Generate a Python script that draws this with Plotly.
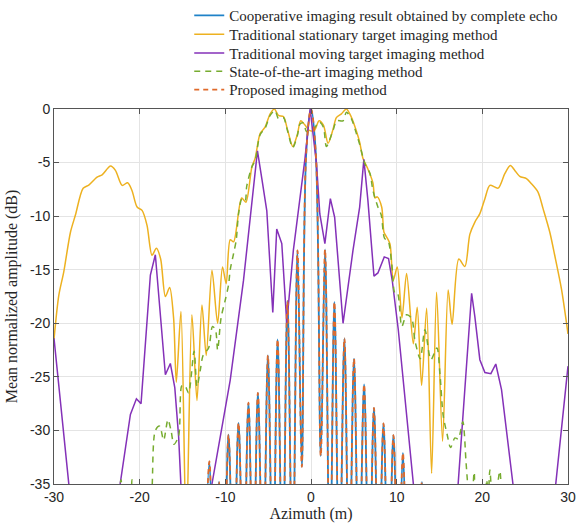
import plotly.graph_objects as go

# ---- data ----
stat_x = [-30, -29.44, -28.86, -28.08, -27.5, -26.6, -25.94, -24.97, -24.38, -23.4, -22.83, -22.05, -21.4, -20.9,
          -20.3, -19.72, -19.14, -18.56, -18.05, -17.55, -17.0, -16.5, -16.04, -15.72, -15.18, -14.56, -13.9, -13.31,
          -12.73, -12.23, -11.56, -10.9, -10.33, -9.9, -9.43, -9.04, -8.1, -7.6, -6.9, -6.52, -5.94, -5.36, -4.77,
          -4.27, -3.8, -3.22, -2.75, -2.13, -1.6, -1.2, -0.7, -0.2, 0.4, 0.94, 1.45, 1.99, 2.57, 2.96, 3.55, 4.13,
          4.71, 5.21, 5.68, 6.06, 6.64, 7.23, 7.46, 7.73, 8.25, 8.52, 8.83, 9.22, 9.6, 10.07, 10.62, 11.16, 11.94,
          12.4, 12.91, 13.5, 14.08, 14.66, 15.36, 16.01, 16.47, 17.25, 17.96, 18.54, 19.13, 19.71, 20.3, 20.88,
          21.85, 22.62, 23.28, 23.79, 24.37, 25.15, 25.73, 26.5, 27.09, 27.87, 28.45, 29.23, 29.81, 30]
stat_y = [-21.5, -17.4, -15.2, -11.5, -9.9, -7.4, -7.1, -6.36, -6.14, -5.33, -5.73, -7.13, -6.88, -7.6,
          -9.15, -9.46, -10.86, -13.65, -13.0, -14.0, -17.5, -16.65, -19.5, -25.5, -18.9, -40, -19.2, -27.2,
          -18.3, -23.0, -15.05, -20.0, -14.74, -16.3, -12.2, -12.4, -8.3, -8.7, -5.4, -4.6, -2.3, -1.7, -0.45,
          0.0, -0.6, -0.7, -1.9, -3.5, -2.4, -1.1, -1.5, -2.0, -2.0, -1.1, -1.5, -3.2, -1.9, -0.8, -0.45, 0.0,
          -0.76, -1.85, -3.1, -4.6, -5.6, -6.9, -8.3, -8.2, -9.15, -11.5, -11.95, -12.6, -16.0, -14.74, -19.5,
          -15.36, -21.9, -18.5, -25.8, -18.6, -34.0, -17.1, -31.0, -16.9, -20.1, -14.0, -14.7, -11.7, -10.55,
          -9.77, -8.37, -7.13, -7.38, -6.04, -5.27, -5.73, -6.29, -6.5, -6.97, -7.75, -9.3, -11.48, -13.65,
          -16.76, -19.87, -21.0]

sota_x = [-23.0, -22.6, -22.17, -21.8, -21.2, -20.9, -20.6, -19.0, -18.56, -18.17, -17.67, -17.2, -16.7, -16.34,
          -16.0, -15.45, -15.06, -14.67, -14.29, -13.65, -13.31, -12.93, -12.6, -11.95, -11.5, -11.15, -10.9, -10.5,
          -10.0, -9.62, -9.43, -9.04, -8.73, -8.46, -8.07, -7.69, -7.5, -6.9, -6.52, -5.94, -5.36, -4.77, -4.2,
          -3.8, -3.22, -2.75, -2.13, -1.6, -1.28, -0.9, -0.52, 0.2, 0.94, 1.45, 1.8, 2.57, 3.0, 3.74, 4.13, 4.71,
          5.3, 5.68, 6.29, 6.88, 7.23, 7.81, 8.2, 8.6, 8.98, 9.42, 9.8, 10.1, 10.6, 11.16, 11.75, 12.13, 12.75,
          13.3, 14.0, 14.7, 15.05, 15.43, 15.9, 16.29, 16.8, 17.18, 17.72, 18.1, 18.34, 18.7, 19.05, 19.4, 20.2,
          20.5, 20.7, 20.88, 21.3, 22.04, 22.4, 23.0]
sota_y = [-40, -38, -34.6, -38, -38, -34.6, -38, -40, -35.5, -30.0, -29.6, -30.9, -29.0, -30.0,
          -31.3, -30.5, -25.8, -25.9, -26.5, -22.6, -25.9, -24.4, -23.0, -22.3, -20.3, -20.6, -22.5, -19.5,
          -17.8, -16.4, -15.0, -13.5, -12.25, -9.8, -8.4, -8.6, -7.2, -5.4, -4.8, -2.4, -1.8, -0.6, -0.15,
          -0.9, -0.8, -2.0, -3.6, -2.5, -1.4, -1.3, -2.1, -2.0, -1.2, -1.7, -3.5, -2.0, -1.1, -1.1, -0.3, -0.9,
          -2.3, -3.3, -5.1, -6.0, -7.6, -9.15, -9.9, -12.1, -12.25, -14.4, -17.2, -17.2, -20.3, -19.2, -19.55,
          -21.6, -23.3, -20.6, -23.4, -22.3, -24.7, -28.6, -30.4, -31.6, -30.7, -30.8, -29.2, -33.0, -35.5, -38,
          -33.9, -38, -38, -34.6, -36, -33.7, -38, -33.8, -38, -40]

move_x = [-30, -28.86, -28.0, -27.0, -23.5, -23.2, -21.08, -20.38, -19.84, -18.75, -18.17, -17.0, -16.42, -15.9,
          -15.45, -14.9, -12.0, -9.43, -7.88, -6.52, -6.25, -5.74, -5.16, -4.46, -4.0, -3.41, -2.83, -2.06, -1.28,
          -0.7, -0.1, 0.64, 1.03, 1.62, 2.26, 2.76, 3.74, 4.9, 5.68, 6.17, 6.64, 7.35, 7.81, 8.55, 9.05, 9.5,
          10.19, 11.94, 12.5, 16.8, 17.0, 18.75, 19.13, 19.71, 20.3, 21.0, 21.57, 22.24, 23.59, 23.8, 28.4, 28.57,
          30]
move_y = [-21.4, -29.96, -36, -45, -45, -40, -28.5, -27.05, -27.5, -15.5, -13.6, -24.8, -23.75, -26.0,
          -30.6, -40, -37, -25.3, -16.0, -5.7, -3.9, -6.5, -9.5, -19.0, -11.2, -12.56, -20.0, -13.2, -8.5,
          -4.6, 0.0, -5.1, -9.8, -12.56, -8.37, -10.1, -20.0, -13.2, -9.15, -4.7, -8.5, -15.6, -15.3, -13.8,
          -13.96, -16.1, -20.6, -35, -39.5, -39.5, -37, -17.2, -19.4, -23.4, -24.6, -24.7, -23.8, -26.2, -35,
          -36.5, -36.5, -35, -24]

echo_x = [-12.4, -11.86, -11.3, -10.75, -10.2, -9.63, -9.05, -8.46, -7.88, -7.3, -6.75, -6.2, -5.6, -5.03,
          -4.45, -3.9, -3.32, -2.75, -2.15, -1.58, -1.07, -0.55, 0.0, 0.55, 1.14, 1.64, 2.2, 2.73, 3.3, 3.9,
          4.45, 5.02, 5.6, 6.2, 6.78, 7.35, 7.9, 8.46, 9.05, 9.62, 10.2, 10.73, 11.3, 11.85, 12.4, 12.95, 13.5]
echo_y = [-45, -32.9, -45, -34.8, -45, -30.4, -45, -29.3, -45, -27.4, -45, -26.5, -45, -23.0,
          -45, -21.5, -45, -17.9, -45, -13.2, -33.4, -4.0, 0.0, -4.0, -32.4, -13.1, -45, -18.0, -45, -21.4,
          -45, -23.3, -45, -25.7, -45, -27.9, -45, -29.35, -45, -30.45, -45, -32.1, -45, -36.5, -45, -34.8, -45]

names = ["Cooperative imaging result obtained by complete echo",
         "Traditional stationary target imaging method",
         "Traditional moving target imaging method",
         "State-of-the-art imaging method",
         "Proposed imaging method"]

x_ticks = [-30, -20, -10, 0, 10, 20, 30]
x_tick_labels = ["-30", "-20", "-10", "0", "10", "20", "30"]
y_ticks = [0, -5, -10, -15, -20, -25, -30, -35]
y_tick_labels = ["0", "-5", "-10", "-15", "-20", "-25", "-30", "-35"]

BLUE = "#1f82c8"
ORANGE = "#E06a2a"
YELLOW = "#EDB120"
PURPLE = "#8431b8"
GREEN = "#77AC30"

W, H = 576, 527
L, R, T, B = 53.5, 568.5, 108.5, 484.0   # plot area in page pixels

fig = go.Figure()
fig.add_trace(go.Scatter(x=echo_x, y=echo_y, mode="lines", name=names[0], legend="legend",
                         line=dict(color=BLUE, width=1.8, shape="spline", smoothing=1.0)))
fig.add_trace(go.Scatter(x=stat_x, y=stat_y, mode="lines", name=names[1], legend="legend2",
                         line=dict(color=YELLOW, width=1.5, shape="spline", smoothing=0.8)))
fig.add_trace(go.Scatter(x=move_x, y=move_y, mode="lines", name=names[2], legend="legend3",
                         line=dict(color=PURPLE, width=1.5)))
fig.add_trace(go.Scatter(x=sota_x, y=sota_y, mode="lines", name=names[3], legend="legend4",
                         line=dict(color=GREEN, width=1.5, dash="6px,5px", shape="spline", smoothing=0.8)))
fig.add_trace(go.Scatter(x=echo_x, y=echo_y, mode="lines", name=names[4], legend="legend5",
                         line=dict(color=ORANGE, width=1.8, dash="5px,4px", shape="spline", smoothing=1.0)))

axis_common = dict(showline=True, linecolor="#555555", linewidth=1, mirror="ticks",
                   ticks="inside", ticklen=5, tickcolor="#555555",
                   showgrid=True, gridcolor="#e4e4e4", gridwidth=1, zeroline=False,
                   tickfont=dict(family="Liberation Sans", size=14, color="#262626"))

legend_rows = [15, 34, 52.7, 71, 89.3]     # legend entry centres, page px
legend_left = 189.0
legend_style = dict(xanchor="left", yanchor="middle", bgcolor="rgba(0,0,0,0)",
                    font=dict(family="Liberation Serif", size=15, color="#262626"),
                    itemwidth=30, borderwidth=0)
legends = {}
for i, yc in enumerate(legend_rows):
    key = "legend" if i == 0 else f"legend{i + 1}"
    legends[key] = dict(x=(legend_left - L) / (R - L), y=1 + (T - yc) / (B - T), **legend_style)

fig.update_layout(
    width=W, height=H,
    margin=dict(l=L, r=W - R, t=T, b=H - B, autoexpand=False),
    paper_bgcolor="white", plot_bgcolor="white",
    xaxis=dict(range=[-30, 30], tickvals=x_ticks, ticktext=x_tick_labels,
               title=dict(text="Azimuth (m)", font=dict(family="Liberation Serif", size=16, color="#262626"),
                          standoff=2),
               **axis_common),
    yaxis=dict(range=[-35, 0], tickvals=y_ticks, ticktext=y_tick_labels,
               title=dict(text="Mean normalized amplitude (dB)",
                          font=dict(family="Liberation Serif", size=16, color="#262626"), standoff=8),
               **axis_common),
    showlegend=True,
    **legends,
)

fig.write_html("out.html", config={"displayModeBar": False},
               post_script="document.body.style.margin='0';document.body.style.padding='0';")
